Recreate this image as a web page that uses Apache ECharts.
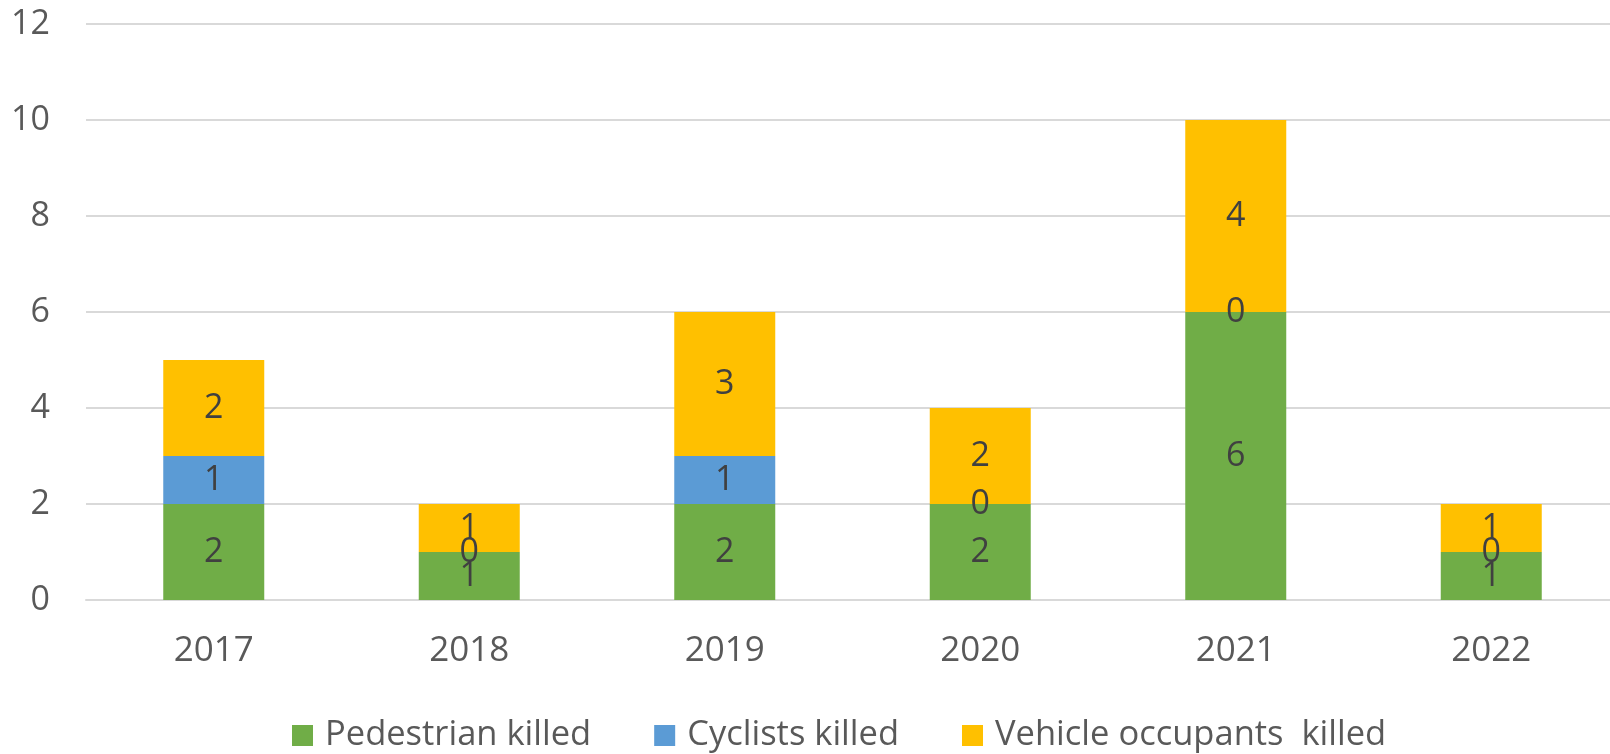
<!DOCTYPE html>
<html>
<head>
<meta charset="utf-8">
<script src="https://cdn.jsdelivr.net/npm/echarts@6/dist/echarts.min.js"></script>
<style>
html,body{margin:0;padding:0;background:#fff;}
#chart{width:1610px;height:754px;}
</style>
</head>
<body>
<div id="chart"></div>
<script>
const categories = ['2017','2018','2019','2020','2021','2022'];
const pedestrians = [2, 1, 2, 2, 6, 1];
const cyclists = [1, 0, 1, 0, 0, 0];
const vehicleOccupants = [2, 1, 3, 2, 4, 1];
const seriesNames = ['Pedestrian killed', 'Cyclists killed', 'Vehicle occupants  killed'];
const yTicks = {min: 0, max: 12, interval: 2};

const FONT = 'Open Sans';
const chart = echarts.init(document.getElementById('chart'), null, {renderer: 'canvas'});
const labelStyle = {show: true, position: 'inside', color: '#404040', fontSize: 34, fontFamily: FONT};
function mk(name, data, color) {
  return {
    name: name, type: 'bar', stack: 'total', data: data, barWidth: 101,
    itemStyle: {color: color}, label: labelStyle, emphasis: {disabled: true}
  };
}
chart.setOption({
  animation: false,
  backgroundColor: '#fff',
  grid: {left: 86, top: 24, width: 1533, height: 576, containLabel: false, outerBoundsMode: 'none'},
  xAxis: {
    type: 'category', data: categories,
    axisLine: {show: true, lineStyle: {color: '#d9d9d9', width: 2}},
    axisTick: {show: false},
    axisLabel: {color: '#595959', fontSize: 35, fontFamily: FONT, margin: 34}
  },
  yAxis: {
    type: 'value', min: yTicks.min, max: yTicks.max, interval: yTicks.interval,
    axisLine: {show: false}, axisTick: {show: false},
    splitLine: {lineStyle: {color: '#d9d9d9', width: 2}},
    axisLabel: {color: '#595959', fontSize: 34, fontFamily: FONT, margin: 36}
  },
  legend: {
    left: 292, top: 718, padding: 0, itemWidth: 21, itemHeight: 21, itemGap: 63,
    icon: 'rect',
    textStyle: {color: '#595959', fontSize: 34.5, fontFamily: FONT, padding: [0, 0, 0, 7]},
    data: seriesNames
  },
  series: [
    mk(seriesNames[0], pedestrians, '#70ad47'),
    mk(seriesNames[1], cyclists, '#5b9bd5'),
    mk(seriesNames[2], vehicleOccupants, '#ffc000')
  ]
});
</script>
</body>
</html>
